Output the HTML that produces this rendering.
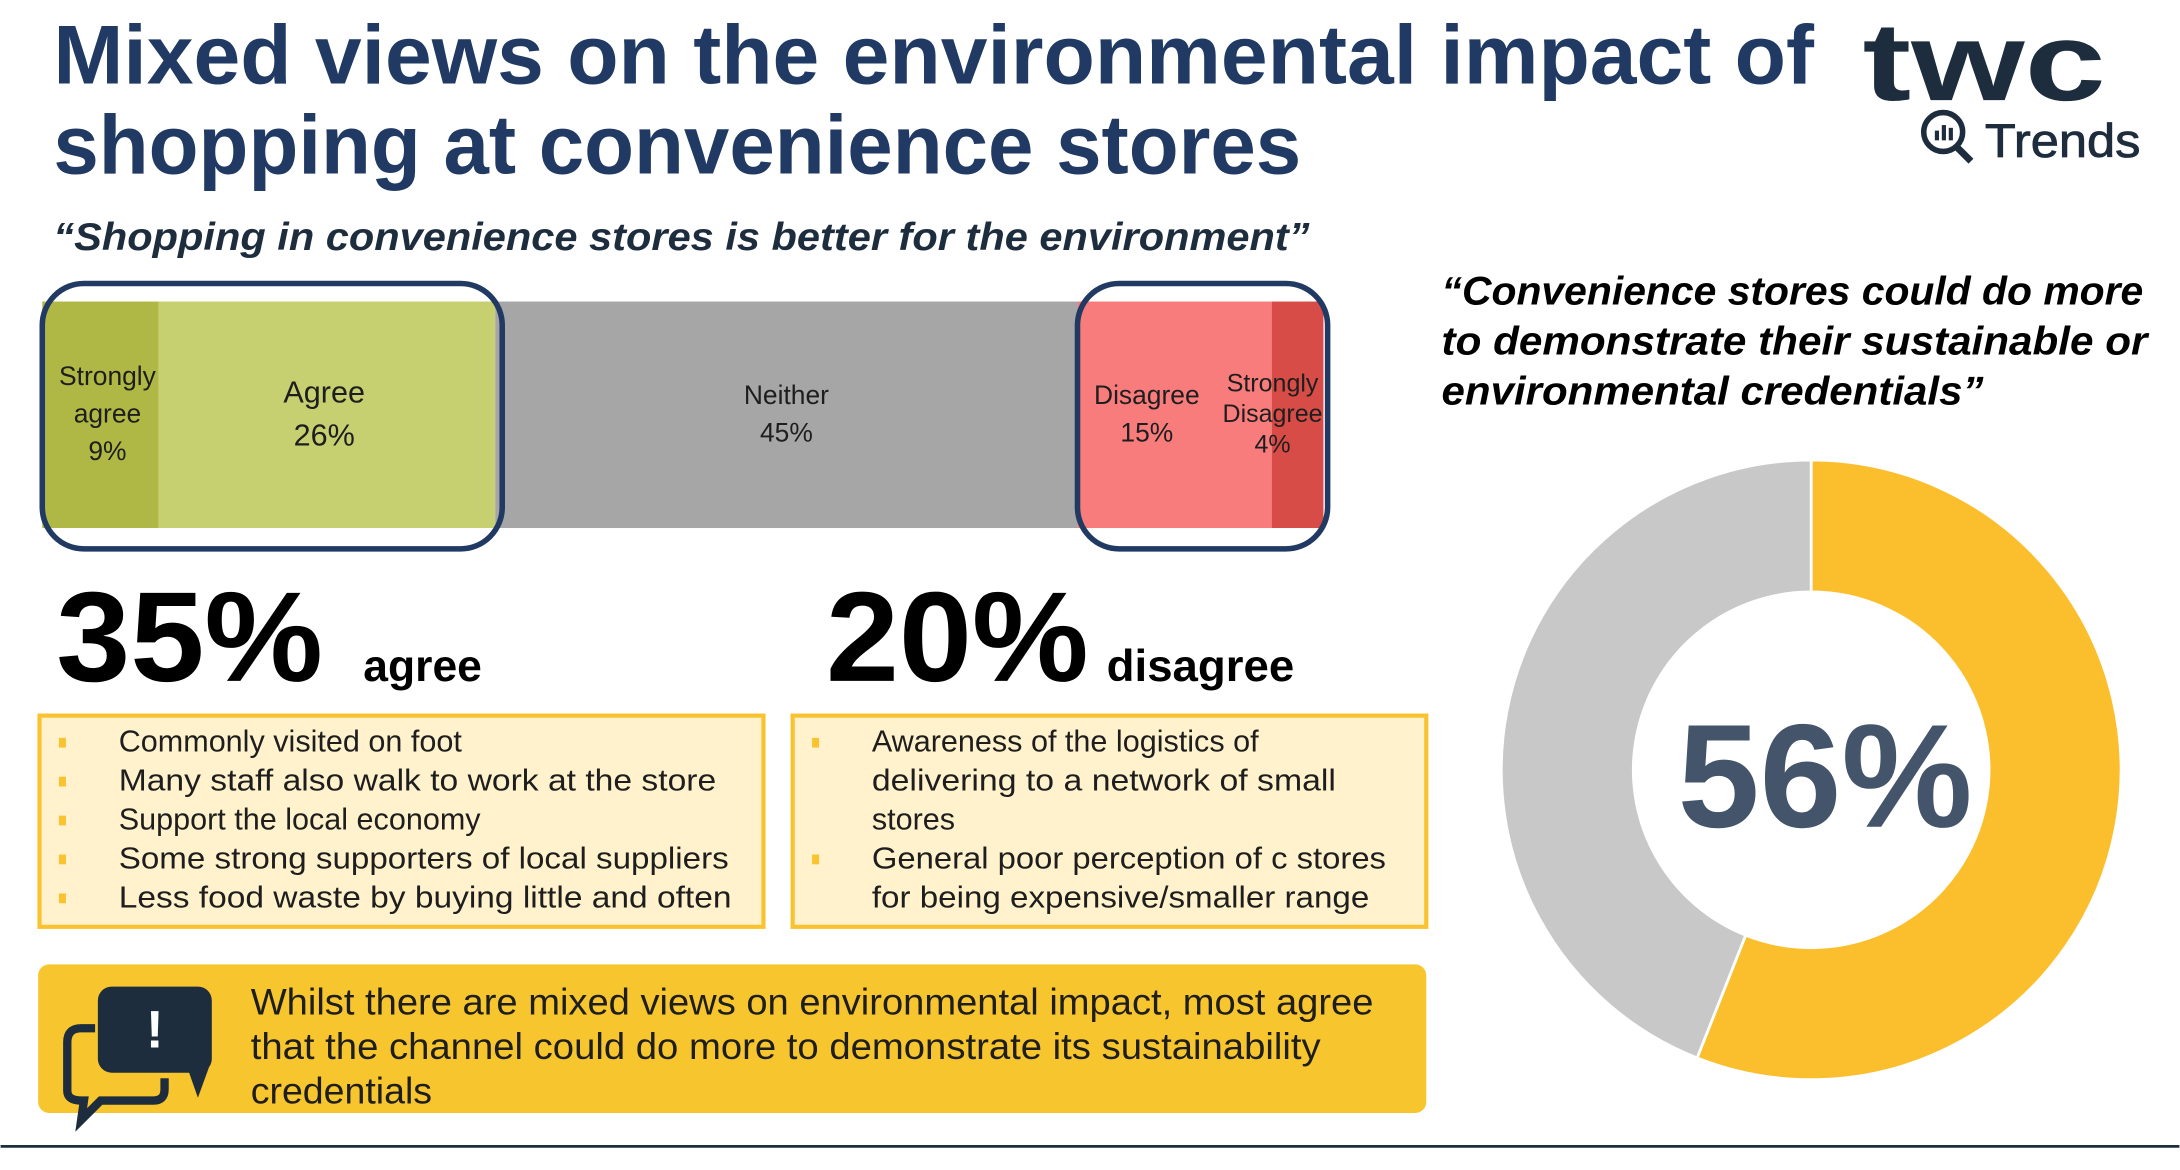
<!DOCTYPE html>
<html><head><meta charset="utf-8"><style>html,body{margin:0;padding:0;background:#fff}svg{display:block}text{font-family:"Liberation Sans",sans-serif}</style></head>
<body>
<svg id="chart" width="2180" height="1170" viewBox="0 0 1568 842" xmlns="http://www.w3.org/2000/svg">
<text x="38" y="60" font-size="60" font-weight="bold" fill="#213a63" textLength="1267" lengthAdjust="spacingAndGlyphs">Mixed views on the environmental impact of</text>
<text x="38" y="125" font-size="60" font-weight="bold" fill="#213a63" textLength="898" lengthAdjust="spacingAndGlyphs">shopping at convenience stores</text>
<g>
<text x="1340" y="72" font-size="80" font-weight="bold" fill="#1e2d3d" textLength="175" lengthAdjust="spacingAndGlyphs">twc</text>
<circle cx="1398" cy="95" r="14" fill="none" stroke="#1e2d3d" stroke-width="4"/>
<line x1="1408" y1="106" x2="1418" y2="116" stroke="#1e2d3d" stroke-width="5"/>
<rect x="1392" y="94" width="3" height="7" fill="#1e2d3d"/><rect x="1397" y="90" width="3" height="11" fill="#1e2d3d"/><rect x="1402" y="92" width="3" height="9" fill="#1e2d3d"/>
<text x="1428" y="113" font-size="34" fill="#1e2d3d" stroke="#1e2d3d" stroke-width="0.6" textLength="112" lengthAdjust="spacingAndGlyphs">Trends</text>
</g>
<text x="38" y="180" font-size="28" font-weight="bold" font-style="italic" fill="#1e2d3d" textLength="904" lengthAdjust="spacingAndGlyphs">“Shopping in convenience stores is better for the environment”</text>
<g id="bar"></g>
<rect x="30" y="204" width="331" height="191" rx="30" fill="none" stroke="#213a63" stroke-width="4"/>
<rect x="775" y="204" width="180" height="191" rx="30" fill="none" stroke="#213a63" stroke-width="4"/>
<text x="40" y="490" font-size="92" font-weight="bold" fill="#000" textLength="192" lengthAdjust="spacingAndGlyphs">35%</text>
<text x="261" y="490" font-size="32" font-weight="bold" fill="#000">agree</text>
<text x="594" y="490" font-size="92" font-weight="bold" fill="#000" textLength="189" lengthAdjust="spacingAndGlyphs">20%</text>
<text x="796" y="490" font-size="32" font-weight="bold" fill="#000" textLength="135" lengthAdjust="spacingAndGlyphs">disagree</text>
<g>
<rect x="28" y="515" width="521" height="152" fill="#fff2cc" stroke="#f9c22e" stroke-width="3"/>
<g font-size="22" fill="#1e1e1e">
<rect x="42" y="531" width="5" height="7" fill="#f9c22e"/><text x="85" y="541">Commonly visited on foot</text>
<rect x="42" y="559" width="5" height="7" fill="#f9c22e"/><text x="85" y="569" textLength="430" lengthAdjust="spacingAndGlyphs">Many staff also walk to work at the store</text>
<rect x="42" y="587" width="5" height="7" fill="#f9c22e"/><text x="85" y="597">Support the local economy</text>
<rect x="42" y="615" width="5" height="7" fill="#f9c22e"/><text x="85" y="625" textLength="439" lengthAdjust="spacingAndGlyphs">Some strong supporters of local suppliers</text>
<rect x="42" y="643" width="5" height="7" fill="#f9c22e"/><text x="85" y="653" textLength="441" lengthAdjust="spacingAndGlyphs">Less food waste by buying little and often</text>
</g></g>
<g>
<rect x="570" y="515" width="456" height="152" fill="#fff2cc" stroke="#f9c22e" stroke-width="3"/>
<g font-size="22" fill="#1e1e1e">
<rect x="584" y="531" width="5" height="7" fill="#f9c22e"/><text x="627" y="541">Awareness of the logistics of</text>
<text x="627" y="569" textLength="334" lengthAdjust="spacingAndGlyphs">delivering to a network of small</text>
<text x="627" y="597">stores</text>
<rect x="584" y="615" width="5" height="7" fill="#f9c22e"/><text x="627" y="625" textLength="370" lengthAdjust="spacingAndGlyphs">General poor perception of c stores</text>
<text x="627" y="653" textLength="358" lengthAdjust="spacingAndGlyphs">for being expensive/smaller range</text>
</g></g>
<g>
<rect x="27" y="694" width="999" height="107" rx="8" fill="#f7c52d"/>
<path d="M68 740 L58 740 Q48 740 48 750 L48 785 Q48 792 58 792 L60 792 L58 806 L72 792 L110 792 Q118 792 118 784 L118 776" fill="none" stroke="#1e2d3d" stroke-width="6"/>
<rect x="70" y="710" width="82" height="62" rx="10" fill="#1e2d3d"/>
<path d="M135 770 L142 790 L150 768 Z" fill="#1e2d3d"/>
<text x="111" y="754" font-size="38" font-weight="bold" fill="#fff" text-anchor="middle">!</text>
<g font-size="27" fill="#1e1e1e">
<text x="180" y="730" textLength="808" lengthAdjust="spacingAndGlyphs">Whilst there are mixed views on environmental impact, most agree</text>
<text x="180" y="762" textLength="770" lengthAdjust="spacingAndGlyphs">that the channel could do more to demonstrate its sustainability</text>
<text x="180" y="794">credentials</text></g></g>
<line x1="0" y1="825" x2="1568" y2="825" stroke="#1e2d3d" stroke-width="2"/>
<g font-size="29" font-weight="bold" font-style="italic" fill="#000">
<text x="1037" y="219" textLength="505" lengthAdjust="spacingAndGlyphs">“Convenience stores could do more</text>
<text x="1037" y="255" textLength="508" lengthAdjust="spacingAndGlyphs">to demonstrate their sustainable or</text>
<text x="1037" y="291" textLength="390" lengthAdjust="spacingAndGlyphs">environmental credentials”</text></g>
<g id="donut"></g>
<text x="1313" y="595" font-size="106" font-weight="bold" fill="#44546a" text-anchor="middle">56%</text>
<script>
const barCategories = ["Strongly agree","Agree","Neither","Disagree","Strongly Disagree"];
const barValues = [9, 26, 45, 15, 4];
const barLabelLines = [["Strongly","agree","9%"],["Agree","26%"],["Neither","45%"],["Disagree","15%"],["Strongly","Disagree","4%"]];
const barColors = ["#b0b845","#c6d070","#a6a6a6","#f97c7c","#d84c47"];
const donutCategories = ["Agree","Other"];
const donutValues = [56, 44];
const donutColors = ["#fbbf2d","#c8c8c8"];
const NS = "http://www.w3.org/2000/svg";
(function(){
  const g = document.getElementById('bar');
  const x0 = 30, x1 = 952, y0 = 217, h = 163;
  const labelDx = [5, -2, 0, -20, -18];
  const total = barValues.reduce((a,b)=>a+b,0);
  const sx = v => v / total * (x1 - x0);
  let cur = x0;
  barValues.forEach((v,i)=>{
    const w = sx(v);
    const r = document.createElementNS(NS,'rect');
    r.setAttribute('x',cur); r.setAttribute('y',y0); r.setAttribute('width',w); r.setAttribute('height',h);
    r.setAttribute('fill',barColors[i]);
    
    
    g.appendChild(r);
    const lines = barLabelLines[i];
    const fs = (i===1)?22:(i===4?18:19);
    const lh = (i===1)?31:(i===4?22:27);
    const cy = y0 + h/2 - 1;
    lines.forEach((t,j)=>{
      const tx = document.createElementNS(NS,'text');
      tx.setAttribute('x', cur + w/2 + labelDx[i]);
      tx.setAttribute('y', cy + (j - (lines.length-1)/2)*lh + fs*0.35);
      tx.setAttribute('font-size', fs);
      tx.setAttribute('text-anchor','middle');
      tx.setAttribute('fill','#1e1e1e');
      
      
      tx.textContent = t;
      g.appendChild(tx);
    });
    cur += w;
  });
})();
(function(){
  const g = document.getElementById('donut');
  const cx = 1303, cy = 554, R = 223, r = 128;
  const total = donutValues.reduce((a,b)=>a+b,0);
  let a0 = -Math.PI/2;
  const pt = (rad,a)=>[cx+rad*Math.cos(a), cy+rad*Math.sin(a)];
  donutValues.forEach((v,i)=>{
    const a1 = a0 + v/total*2*Math.PI;
    const large = (a1-a0) > Math.PI ? 1 : 0;
    const [ax,ay]=pt(R,a0),[bx,by]=pt(R,a1),[cx2,cy2]=pt(r,a1),[dx,dy]=pt(r,a0);
    const p = document.createElementNS(NS,'path');
    p.setAttribute('d',`M${ax} ${ay} A${R} ${R} 0 ${large} 1 ${bx} ${by} L${cx2} ${cy2} A${r} ${r} 0 ${large} 0 ${dx} ${dy} Z`);
    p.setAttribute('fill',donutColors[i]);
    p.setAttribute('stroke','#fff');
    p.setAttribute('stroke-width','2');
    
    
    g.appendChild(p);
    a0 = a1;
  });
})();
</script>
</svg>
</body></html>
